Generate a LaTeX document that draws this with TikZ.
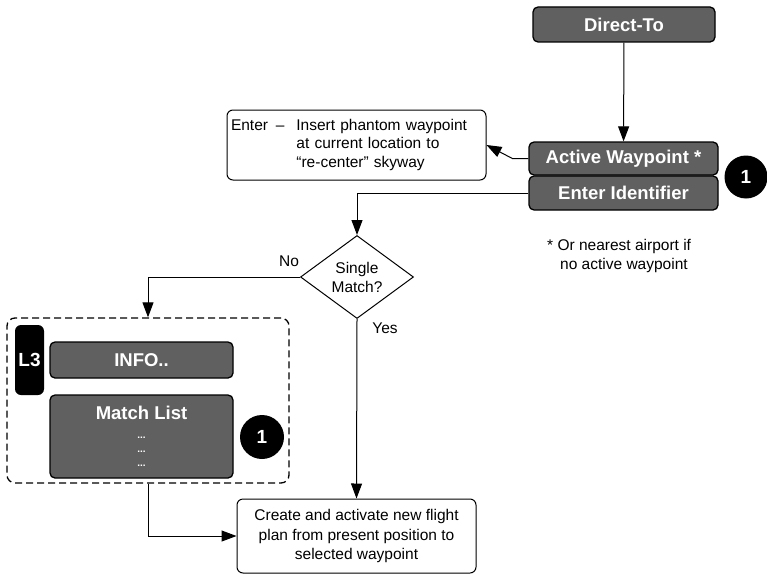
\documentclass[tikz,border=0pt]{standalone}
\usepackage{fontspec}
\setmainfont{Liberation Sans}
\usepackage{tikz}
\usetikzlibrary{shapes.geometric}
\usetikzlibrary{arrows.meta}
\definecolor{keygray}{RGB}{96,96,96}

\begin{document}
\begin{tikzpicture}[x=1pt, y=-1pt,
	key/.style={rectangle, rounded corners=5pt, draw=black, line width=1.3pt, fill=keygray, text=white, inner sep=0pt, font=\fontsize{18.5}{21}\selectfont\bfseries},
	plain/.style={rectangle, rounded corners=6pt, draw=black, line width=1pt, fill=white, inner sep=0pt, font=\fontsize{15.5}{19.5}\selectfont},
	badge/.style={circle, fill=black, text=white, inner sep=0pt, minimum size=43pt, font=\fontsize{19}{22}\selectfont\bfseries},
	lbl/.style={inner sep=0pt, font=\fontsize{15.5}{18.5}\selectfont},
	flow/.style={-{Triangle[length=15pt, width=11pt]}, line width=1pt}]
				\useasboundingbox (0,0) rectangle (767,575);
				\node[key, minimum width=182pt, minimum height=35pt] (direct) at (624,24.5) {Direct-To};
				\node[key, minimum width=189pt, minimum height=33pt] (active) at (623.5,158.5) {Active Waypoint *};
				\node[key, minimum width=189pt, minimum height=34pt] (ident) at (623.5,193) {Enter Identifier};
				\node[badge] (one) at (746,177) {1};
				\node[plain, inner xsep=4pt, text width=251pt, align=left, minimum height=70pt, font=\fontsize{15.5}{18.5}\selectfont] (note) at (356.5,145) {\begin{tabular}{@{}l@{\hspace{12pt}}l@{}}Enter~\,–&Insert phantom waypoint\\&at current location to\\&“re-center” skyway\end{tabular}};
				\node[lbl, align=left, anchor=west] (foot) at (547,256) {* Or nearest airport if\\\hspace*{13pt}no active waypoint};
				\node[diamond, draw, line width=1pt, inner sep=0pt, minimum width=113pt, minimum height=83pt, align=center, font=\fontsize{15.5}{19}\selectfont] (single) at (357,277) {Single\\Match?};
				\node[lbl] (no) at (289,261) {No};
				\node[lbl] (yes) at (385,328) {Yes};
				\node[rectangle, rounded corners=8pt, draw, dash pattern=on 7pt off 4pt, line width=1.3pt, minimum width=282pt, minimum height=165pt] (list) at (148,400.5) {};
				\node[rectangle, rounded corners=6pt, fill=black, text=white, inner sep=0pt, minimum width=29pt, minimum height=70pt, font=\fontsize{19}{22}\selectfont\bfseries] (lthree) at (29.5,360) {L3};
				\node[key, minimum width=183pt, minimum height=36pt] (info) at (141.5,360) {INFO..};
				\node[key, minimum width=183pt, minimum height=83pt, align=center, font=\fontsize{18.5}{14}\selectfont\bfseries] (match) at (141.5,436.5) {Match List\\[5pt]{\fontsize{10}{14}\selectfont...}\\{\fontsize{10}{14}\selectfont...}\\{\fontsize{10}{14}\selectfont...}};
				\node[badge, minimum size=44pt] (two) at (262,437) {1};
				\node[plain, minimum width=239pt, minimum height=74pt, align=center] (create) at (356.5,536) {Create and activate new flight\\plan from present position to\\selected waypoint};
				\draw[flow] (direct) -- (active);
				\draw[flow] (active.west) -- ++(-16,0) -- (note.east);
				\draw[flow] (ident.west) -| (single.north);
				\draw[flow] (single.west) -| (list.north);
				\draw[flow] (single.south) -- (create.north);
				\draw[flow] (list.south) |- (create.west);
			\end{tikzpicture}
\end{document}
